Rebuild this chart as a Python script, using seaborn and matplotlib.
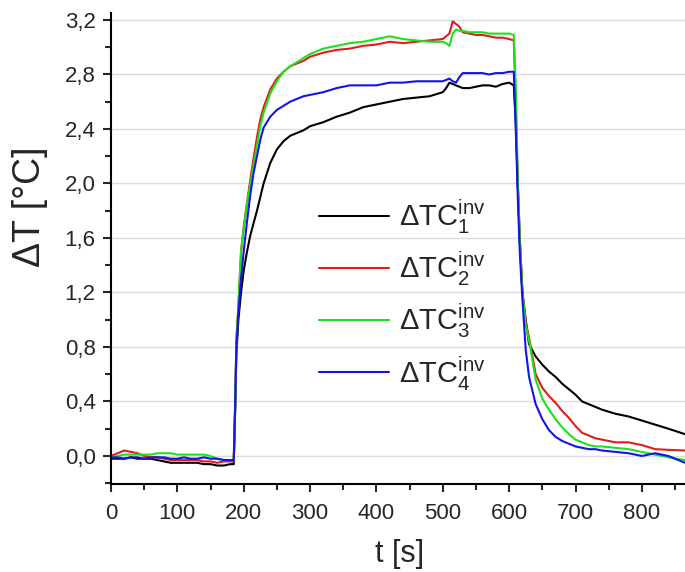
import pandas as pd
import matplotlib.pyplot as plt
import seaborn as sns
from matplotlib.ticker import MultipleLocator, FuncFormatter

# time axis [s]
t = [0, 10, 20, 30, 40, 50, 60, 70, 80, 90, 100, 110, 120, 130, 140, 150, 160, 170, 180,
     185, 187, 189, 192, 196, 200, 205, 210, 215, 220, 225, 230,
     240, 250, 260, 270, 280, 290, 300,
     320, 340, 360, 380, 400, 420, 440, 460, 480, 500,
     505, 510, 515, 520, 525, 530,
     540, 550, 560, 570, 580, 590, 600,
     607, 610, 613, 616, 620, 625, 630,
     640, 650, 660, 670, 680, 690, 700, 710, 720, 730, 740,
     760, 780, 800, 820, 840, 865]

# dT values [°C]
dtc1 = [-0.02, -0.02, -0.02, -0.01, -0.02, -0.02, -0.02, -0.03, -0.04, -0.05, -0.05, -0.05, -0.05, -0.05, -0.06, -0.06, -0.07, -0.07, -0.06,
        -0.06, 0.30, 0.75, 1.00, 1.20, 1.36, 1.50, 1.62, 1.71, 1.80, 1.90, 2.00,
        2.15, 2.25, 2.31, 2.35, 2.37, 2.39, 2.42,
        2.45, 2.49, 2.52, 2.56, 2.58, 2.60, 2.62, 2.63, 2.64, 2.67,
        2.70, 2.74, 2.73, 2.72, 2.71, 2.70,
        2.70, 2.71, 2.72, 2.72, 2.71, 2.73, 2.74,
        2.72, 2.45, 2.00, 1.60, 1.20, 1.00, 0.82,
        0.73, 0.67, 0.62, 0.58, 0.53, 0.49, 0.45, 0.40, 0.38, 0.36, 0.34,
        0.31, 0.29, 0.26, 0.23, 0.20, 0.16]

dtc2 = [0.00, 0.02, 0.04, 0.03, 0.02, 0.00, -0.01, -0.01, -0.02, -0.03, -0.03, -0.03, -0.03, -0.03, -0.04, -0.04, -0.05, -0.04, -0.04,
        -0.04, 0.35, 0.85, 1.10, 1.50, 1.68, 1.86, 2.03, 2.19, 2.34, 2.47, 2.56,
        2.69, 2.77, 2.82, 2.86, 2.88, 2.90, 2.93,
        2.96, 2.98, 2.99, 3.01, 3.02, 3.04, 3.03, 3.04, 3.05, 3.06,
        3.08, 3.10, 3.19, 3.17, 3.15, 3.11,
        3.10, 3.09, 3.09, 3.08, 3.07, 3.07, 3.06,
        3.05, 2.60, 2.00, 1.58, 1.20, 0.98, 0.87,
        0.60, 0.50, 0.44, 0.39, 0.33, 0.28, 0.22, 0.17, 0.15, 0.13, 0.12,
        0.10, 0.10, 0.08, 0.05, 0.045, 0.04]

dtc3 = [-0.01, 0.00, 0.01, 0.01, 0.01, 0.01, 0.01, 0.02, 0.02, 0.02, 0.01, 0.01, 0.01, 0.01, 0.01, 0.00, -0.02, -0.03, -0.03,
        -0.03, 0.35, 0.85, 1.10, 1.50, 1.67, 1.85, 2.00, 2.14, 2.28, 2.42, 2.52,
        2.66, 2.75, 2.82, 2.86, 2.89, 2.92, 2.95,
        2.99, 3.01, 3.03, 3.04, 3.06, 3.08, 3.06, 3.05, 3.04, 3.04,
        3.03, 3.01, 3.10, 3.13, 3.12, 3.12,
        3.11, 3.11, 3.11, 3.10, 3.10, 3.10, 3.10,
        3.09, 2.70, 2.05, 1.60, 1.20, 0.96, 0.85,
        0.56, 0.42, 0.34, 0.27, 0.21, 0.16, 0.12, 0.10, 0.08, 0.07, 0.07,
        0.06, 0.05, 0.03, 0.01, -0.01, -0.03]

dtc4 = [-0.01, -0.01, -0.02, -0.01, -0.01, -0.02, -0.01, -0.01, -0.01, -0.02, -0.02, -0.01, -0.02, -0.02, -0.01, -0.02, -0.02, -0.03, -0.03,
        -0.03, 0.35, 0.80, 1.05, 1.30, 1.50, 1.72, 1.92, 2.08, 2.20, 2.32, 2.41,
        2.49, 2.54, 2.57, 2.60, 2.62, 2.64, 2.65,
        2.67, 2.70, 2.72, 2.72, 2.72, 2.74, 2.74, 2.75, 2.75, 2.75,
        2.76, 2.77, 2.75, 2.74, 2.78, 2.81,
        2.81, 2.81, 2.81, 2.80, 2.81, 2.81, 2.82,
        2.82, 2.40, 1.90, 1.50, 1.15, 0.78, 0.58,
        0.38, 0.27, 0.19, 0.14, 0.11, 0.09, 0.07, 0.06, 0.05, 0.05, 0.04,
        0.03, 0.02, 0.00, 0.02, 0.00, -0.05]

names = ['TC1', 'TC2', 'TC3', 'TC4']
labels = [r'$\mathrm{\Delta TC}^{\mathrm{inv}}_{%d}$' % i for i in range(1, 5)]
colors = ['#000000', '#e01c1c', '#1fe01f', '#1414e6']

df = pd.DataFrame({'t': t * 4,
                   'dT': dtc1 + dtc2 + dtc3 + dtc4,
                   'series': [n for n in names for _ in t]})

sns.set_style('white')
plt.rcParams['font.family'] = ['Liberation Sans', 'DejaVu Sans']
plt.rcParams['mathtext.fontset'] = 'custom'
plt.rcParams['mathtext.rm'] = 'Liberation Sans'
plt.rcParams['mathtext.it'] = 'Liberation Sans:italic'

fig = plt.figure(figsize=(6.85, 5.72), dpi=100)
ax = fig.add_axes([0.162, 0.154, 0.838, 0.823])

for y in [0.0, 0.4, 0.8, 1.2, 1.6, 2.0, 2.4, 2.8, 3.2]:
    ax.axhline(y, color='#dcdcdc', lw=1.0, zorder=0)

sns.lineplot(data=df, x='t', y='dT', hue='series', palette=dict(zip(names, colors)),
             linewidth=1.5, ax=ax, legend=False)

ax.set_xlim(0, 865)
ax.set_ylim(-0.205, 3.25)
ax.xaxis.set_major_locator(MultipleLocator(100))
ax.xaxis.set_minor_locator(MultipleLocator(50))
ax.yaxis.set_major_locator(MultipleLocator(0.4))
ax.yaxis.set_minor_locator(MultipleLocator(0.2))
ax.yaxis.set_major_formatter(FuncFormatter(lambda v, p: ('%.1f' % v).replace('.', ',').replace('-0,0', '0,0')))
ax.tick_params(which='major', direction='out', length=6, width=1.5, labelsize=16, left=True, bottom=True)
ax.tick_params(axis='x', which='major', pad=8)
ax.tick_params(axis='y', which='major', pad=5)
ax.tick_params(which='minor', direction='out', length=4, width=1.5, left=True, bottom=True)

for s in ['top', 'right']:
    ax.spines[s].set_visible(False)
for s in ['left', 'bottom']:
    ax.spines[s].set_color('black')
    ax.spines[s].set_linewidth(1.5)

ax.set_xlabel('t [s]', fontsize=22)
ax.set_ylabel('ΔT [°C]', fontsize=27)
ax.xaxis.set_label_coords(0.503, -0.116)
ax.yaxis.set_label_coords(-0.11, 0.588)

handles = [plt.Line2D([], [], color=c, lw=1.5) for c in colors]
ax.legend(handles, labels, loc='upper left', bbox_to_anchor=(0.316, 0.665), frameon=False,
          fontsize=21, handlelength=2.4, handletextpad=0.35, labelspacing=0.47)

fig.savefig('out.png', dpi=100)
